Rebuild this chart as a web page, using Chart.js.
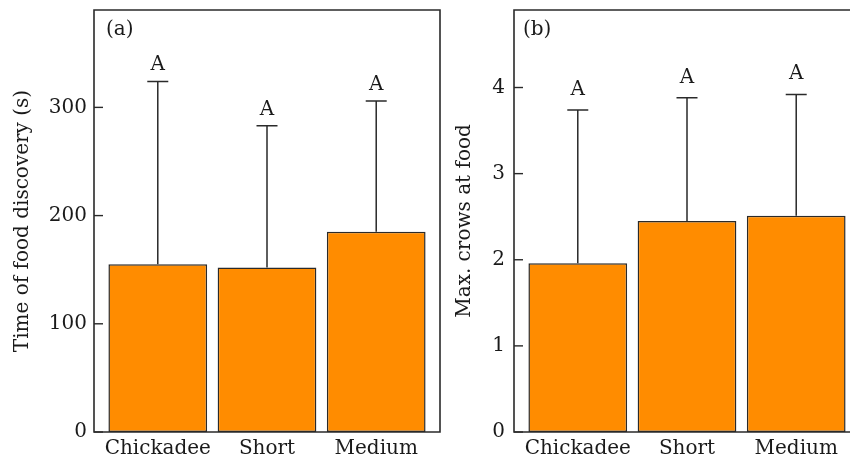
<!DOCTYPE html>
<html><head><meta charset="utf-8">
<script src="https://cdn.jsdelivr.net/npm/chart.js@4/dist/chart.umd.min.js"></script>
<style>
html,body{margin:0;padding:0;background:#fff;overflow:hidden;width:850px;height:460px;position:relative;}
canvas{position:absolute;top:0;}
#ca{left:0px}
#cb{left:420px}
</style></head><body>
<canvas id="ca" width="450" height="460"></canvas>
<canvas id="cb" width="450" height="460"></canvas>
<script>
// ---- data ----
const categories = ['Chickadee', 'Short', 'Medium'];
const discoveryMean = [155, 152, 185];
const discoveryUpper = [324, 283, 306];
const discoveryLetters = ['A', 'A', 'A'];
const discoveryTicks = [0, 100, 200, 300];
const crowsMean = [1.96, 2.45, 2.51];
const crowsUpper = [3.74, 3.88, 3.92];
const crowsLetters = ['A', 'A', 'A'];
const crowsTicks = [0, 1, 2, 3, 4];

const FONT = "'DejaVu Serif', serif";
const INK = '#1a1a1a';
const LINE = '#2a2a2a';
const ORANGE = '#FF8C00';

function makeChart(id, means, uppers, letters, ticks, yMax, title, panel, opts) {
  const decor = {
    id: 'decor_' + id,
    afterDatasetsDraw(chart) {
      const ctx = chart.ctx;
      const ys = chart.scales.y;
      const meta = chart.getDatasetMeta(0);
      ctx.save();
      ctx.strokeStyle = LINE;
      ctx.lineWidth = 1.5;
      ctx.fillStyle = INK;
      ctx.font = '20px ' + FONT;
      ctx.textAlign = 'center';
      ctx.textBaseline = 'alphabetic';
      meta.data.forEach((bar, i) => {
        const x = bar.x;
        const yTop = ys.getPixelForValue(uppers[i]);
        const yBar = ys.getPixelForValue(means[i]);
        ctx.beginPath();
        ctx.moveTo(x, yBar);
        ctx.lineTo(x, yTop);
        ctx.moveTo(x - 10.5, yTop);
        ctx.lineTo(x + 10.5, yTop);
        ctx.stroke();
        ctx.fillText(letters[i], x, yTop - opts.letterGap);
      });
      ctx.restore();
    },
    afterDraw(chart) {
      const ctx = chart.ctx;
      const a = chart.chartArea;
      const ys = chart.scales.y;
      ctx.save();
      ctx.strokeStyle = LINE;
      ctx.lineWidth = 1.6;
      ctx.beginPath();
      if (opts.openRight) {
        ctx.moveTo(a.right, a.top);
        ctx.lineTo(a.left, a.top);
        ctx.lineTo(a.left, a.bottom);
        ctx.lineTo(a.right, a.bottom);
      } else {
        ctx.rect(a.left, a.top, a.right - a.left, a.bottom - a.top);
      }
      ctx.stroke();
      ctx.lineWidth = 1.4;
      ticks.forEach(v => {
        const y = ys.getPixelForValue(v);
        ctx.beginPath();
        ctx.moveTo(a.left, y);
        ctx.lineTo(a.left + 9, y);
        ctx.stroke();
      });
      ctx.fillStyle = INK;
      ctx.font = '20px ' + FONT;
      ctx.textAlign = 'left';
      ctx.textBaseline = 'alphabetic';
      ctx.fillText(panel, a.left + opts.panelDx, a.top + 25);
      ctx.restore();
    }
  };

  return new Chart(document.getElementById(id), {
    type: 'bar',
    data: {
      datasets: [{
        data: means.map((v, i) => ({x: i, y: v})),
        backgroundColor: ORANGE,
        borderColor: LINE,
        borderWidth: 1.5,
        borderSkipped: false,
        barPercentage: 0.904,
        categoryPercentage: 1.0
      }]
    },
    options: {
      responsive: false,
      animation: false,
      devicePixelRatio: 1,
      layout: {padding: {top: 10, right: 10, left: 0, bottom: 0}},
      plugins: {legend: {display: false}, tooltip: {enabled: false}},
      scales: {
        x: {
          type: 'linear',
          offset: false,
          min: -0.584,
          max: 2.584,
          grid: {display: false, drawTicks: false, offset: false},
          border: {display: false},
          afterBuildTicks: s => { s.ticks = categories.map((c, i) => ({value: i})); },
          afterFit: s => { s.height = 28; s.paddingLeft = 0; s.paddingRight = 0; },
          ticks: {
            padding: 5,
            color: INK,
            font: {family: FONT, size: 20},
            maxRotation: 0,
            autoSkip: false,
            callback: v => categories[v]
          }
        },
        y: {
          type: 'linear',
          min: 0,
          max: yMax,
          grid: {display: false, drawTicks: false},
          border: {display: false},
          afterBuildTicks: s => { s.ticks = ticks.map(v => ({value: v})); },
          afterFit: s => { s.width = 94; s.paddingTop = 0; s.paddingBottom = 0; },
          ticks: {
            padding: opts.tickPad,
            color: INK,
            font: {family: FONT, size: 20},
            callback: v => String(v)
          },
          title: {
            display: true,
            text: title,
            color: INK,
            font: {family: FONT, size: 20},
            padding: {top: opts.titlePad, bottom: 0}
          }
        }
      }
    },
    plugins: [decor]
  });
}

makeChart('ca', discoveryMean, discoveryUpper, discoveryLetters, discoveryTicks, 390,
  'Time of food discovery (s)', '(a)', {letterGap: 11, tickPad: 7, titlePad: 11, panelDx: 12, openRight: false});
makeChart('cb', crowsMean, crowsUpper, crowsLetters, crowsTicks, 4.9,
  'Max. crows at food', '(b)', {letterGap: 15, tickPad: 9, titlePad: 33, panelDx: 9, openRight: true});
</script>
</body></html>
